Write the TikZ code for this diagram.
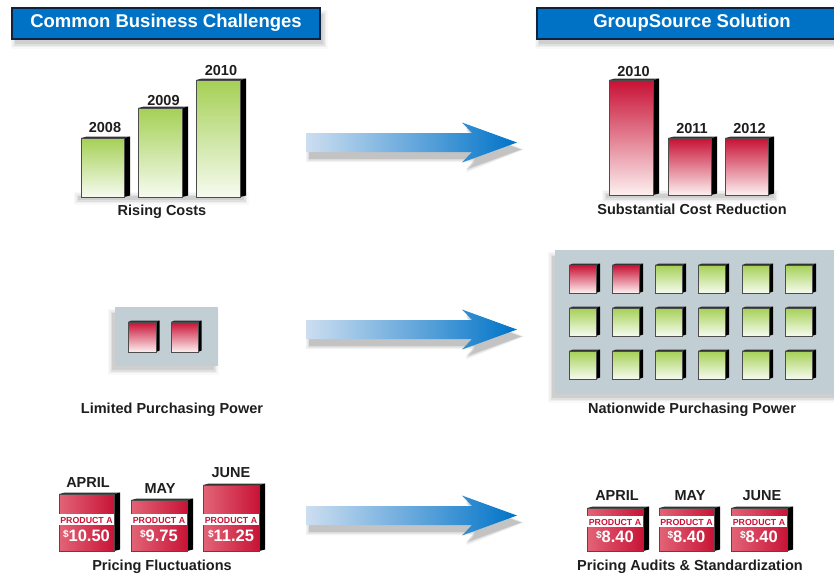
\documentclass[tikz,border=0pt]{standalone}
\usepackage{fontspec}
\setmainfont{Liberation Sans}
\definecolor{hdrblue}{RGB}{0,114,198}
\definecolor{hdrline}{RGB}{15,35,60}
\definecolor{grntop}{RGB}{165,208,85}
\definecolor{grnbot}{RGB}{246,251,240}
\definecolor{redtop}{RGB}{200,16,52}
\definecolor{redbot}{RGB}{253,240,240}
\definecolor{panelgray}{RGB}{193,207,212}
\definecolor{arrlight}{RGB}{205,222,240}
\definecolor{arrdark}{RGB}{0,115,200}
\definecolor{prodleft}{RGB}{226,100,118}
\definecolor{prodright}{RGB}{200,20,55}
\definecolor{txt}{RGB}{30,30,30}
\tikzset{
  hdr/.style={font=\bfseries\fontsize{18.5}{20}\selectfont, text=white, inner sep=0pt, text height=0.72em, text depth=0pt},
  lbl/.style={font=\bfseries\fontsize{14.5}{16}\selectfont, text=txt, inner sep=0pt, text height=0.72em, text depth=0pt},
  yr/.style={font=\bfseries\fontsize{14.5}{16}\selectfont, text=txt, inner sep=0pt, text height=0.72em, text depth=0pt},
  prod/.style={font=\bfseries\fontsize{8.8}{10}\selectfont, text=prodright, inner sep=0pt, text height=0.72em, text depth=0pt},
  price/.style={font=\bfseries\fontsize{16.5}{18}\selectfont, text=white, inner sep=0pt, text height=0.72em, text depth=0pt},
  hdrbox/.style={fill=hdrblue, draw=hdrline, line width=1.2pt},
  greenface/.style={top color=grntop, bottom color=grnbot, draw=black!70, line width=0.4pt},
  redface/.style={top color=redtop, bottom color=redbot, draw=black!70, line width=0.4pt},
  prodface/.style={left color=prodleft, right color=prodright, draw=black!70, line width=0.4pt},
  panelbox/.style={fill=panelgray},
  bigarrowstyle/.style={left color=arrlight, right color=arrdark},
}
% #1 x1, #2 top, #3 x2, #4 bottom, #5 depth, #6 front style
\newcommand{\solidbox}[6]{%
  \fill[black!80] (#1,#2) -- (#1+#5,#2-1.5) -- (#3+#5,#2-1.5) -- (#3,#2) -- cycle;
  \fill[black] (#3,#2) -- (#3+#5,#2-1.5) -- (#3+#5,#4-1.5) -- (#3,#4) -- cycle;
  \path[#6] (#1,#2) rectangle (#3,#4);
}
\newcommand{\softshadow}[4]{%
  \foreach \e/\o in {0/0.08,1.5/0.06,3/0.04,4.5/0.025}{%
    \fill[black,opacity=\o] (#1-\e,#2-\e) rectangle (#3+\e,#4+\e);}%
}
% #1 centre y
\newcommand{\bigarrow}[1]{%
  \foreach \e/\o in {0/0.12,1.5/0.08,3/0.05}{%
    \fill[black,opacity=\o] (309-\e,#1-9.5+7-\e) -- (475,#1-9.5+7-\e) -- (466,#1-20+7-\e) -- (521+\e,#1+7) -- (466,#1+20+7+\e) -- (475,#1+9.5+7+\e) -- (309-\e,#1+9.5+7+\e) -- cycle;}
  \shade[bigarrowstyle] (306,#1-9.5) -- (472,#1-9.5) -- (462,#1-20) -- (517,#1) -- (462,#1+20) -- (472,#1+9.5) -- (306,#1+9.5) -- cycle;
}
\begin{document}
\begin{tikzpicture}[x=1pt,y=-1pt]
\useasboundingbox (0,0) rectangle (834,576);
\clip (0,0) rectangle (834,576);
\fill[white] (0,0) rectangle (834,576);

% ---------- headers ----------
\softshadow{15}{14}{323}{44}
\draw[hdrbox] (12,8) rectangle (320,39);
\node[hdr] (hl) at (166,24) {Common Business Challenges};
\softshadow{539}{14}{850}{44}
\draw[hdrbox] (537,8) rectangle (850,39);
\node[hdr] (hr) at (692,24) {GroupSource Solution};

% ---------- row 1: costs ----------
\softshadow{78}{196}{244}{200}
\solidbox{81}{138}{124}{197}{6}{greenface}
\solidbox{138}{108}{182}{197}{6}{greenface}
\solidbox{196}{80}{240}{197}{6}{greenface}
\node[yr] (y08) at (105,129) {2008};
\node[yr] (y09) at (163.5,101.5) {2009};
\node[yr] (y10) at (221,72) {2010};
\node[lbl] (rc) at (162,212) {Rising Costs};

\softshadow{606}{194}{774}{198}
\solidbox{609}{80}{653}{195}{6}{redface}
\solidbox{668}{138}{711}{195}{6}{redface}
\solidbox{725}{138}{768}{195}{6}{redface}
\node[yr] (r10) at (633.5,73) {2010};
\node[yr] (r11) at (692,130) {2011};
\node[yr] (r12) at (749.5,130) {2012};
\node[lbl] (scr) at (692,211) {Substantial Cost Reduction};

% ---------- row 2: purchasing power ----------
\softshadow{112}{313}{214}{370}
\fill[panelbox] (115,307) rectangle (218,366);
\solidbox{128}{322}{156}{352}{3.5}{redface}
\solidbox{171}{322}{198}{352}{3.5}{redface}
\node[lbl] (lpp) at (172,410) {Limited Purchasing Power};

\softshadow{552}{256}{836}{398}
\fill[panelbox] (555,250) rectangle (840,394);
\foreach \cx [count=\ci] in {569,612,655,698,742,785}{%
  \foreach \ry [count=\ri] in {265,308,351}{%
    \ifnum\ri=1 \ifnum\ci<3
      \solidbox{\cx}{\ry}{\cx+27}{\ry+28}{4}{redface}
    \else
      \solidbox{\cx}{\ry}{\cx+27}{\ry+28}{4}{greenface}
    \fi\else
      \solidbox{\cx}{\ry}{\cx+27}{\ry+28}{4}{greenface}
    \fi
  }}
\node[lbl] (npp) at (692,410) {Nationwide Purchasing Power};

% ---------- row 3: pricing ----------
\foreach \xa/\ya/\xb in {59/494/114, 131/500/187, 203/485/259}{%
  \solidbox{\xa}{\ya}{\xb}{551}{6}{prodface}
  \fill[white] (\xa,514) rectangle (\xb,525);
}
\node[yr] (la) at (88,484) {APRIL};
\node[yr] (lm) at (160,490) {MAY};
\node[yr] (lj) at (231,474) {JUNE};
\node[prod] (lpa) at (86.5,519.5) {PRODUCT A};
\node[prod] (lpb) at (159,519.5) {PRODUCT A};
\node[prod] (lpc) at (231,519.5) {PRODUCT A};
\node[price] (lva) at (86.5,537.5) {\raisebox{3.5pt}{\fontsize{10}{10}\selectfont\$}10.50};
\node[price] (lvb) at (159,537.5) {\raisebox{3.5pt}{\fontsize{10}{10}\selectfont\$}9.75};
\node[price] (lvc) at (231,537.5) {\raisebox{3.5pt}{\fontsize{10}{10}\selectfont\$}11.25};
\node[lbl] (pf) at (162,567) {Pricing Fluctuations};

\foreach \xa/\xb in {587/643, 659/714, 731/787}{%
  \solidbox{\xa}{508}{\xb}{551}{6}{prodface}
  \fill[white] (\xa,516) rectangle (\xb,527);
}
\node[yr] (ra) at (617,497) {APRIL};
\node[yr] (rm) at (690,497) {MAY};
\node[yr] (rj) at (762,497) {JUNE};
\node[prod] (rpa) at (615,521.5) {PRODUCT A};
\node[prod] (rpb) at (686.5,521.5) {PRODUCT A};
\node[prod] (rpc) at (759,521.5) {PRODUCT A};
\node[price] (rva) at (615,538.5) {\raisebox{3.5pt}{\fontsize{10}{10}\selectfont\$}8.40};
\node[price] (rvb) at (686.5,538.5) {\raisebox{3.5pt}{\fontsize{10}{10}\selectfont\$}8.40};
\node[price] (rvc) at (759,538.5) {\raisebox{3.5pt}{\fontsize{10}{10}\selectfont\$}8.40};
\node[lbl] (pas) at (690,567) {Pricing Audits \& Standardization};

% ---------- arrows ----------
\bigarrow{142.5}
\bigarrow{329.5}
\bigarrow{515.5}
\end{tikzpicture}
\end{document}
